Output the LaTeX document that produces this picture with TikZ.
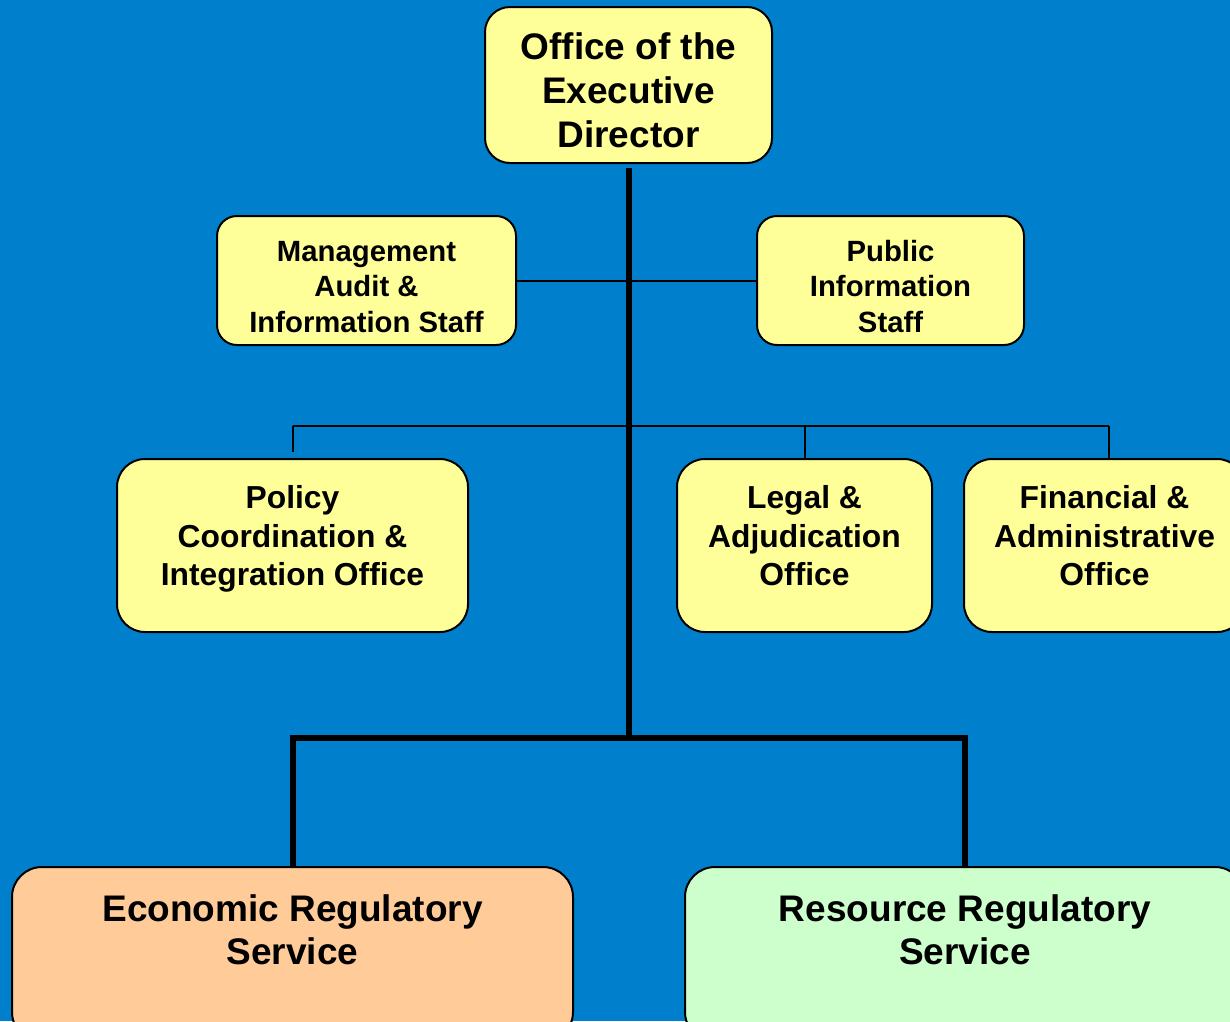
\documentclass[tikz,border=0pt]{standalone}
\usepackage{fontspec}
\setmainfont{Liberation Sans}
\definecolor{bgblue}{RGB}{0,128,204}
\definecolor{boxyellow}{RGB}{255,255,153}
\definecolor{boxorange}{RGB}{255,204,153}
\definecolor{boxgreen}{RGB}{204,255,204}
\tikzset{
  orgbox/.style={draw=black, line width=2pt, inner sep=0pt, align=center, text=black},
  thin/.style={line width=2pt, draw=black},
  thick/.style={line width=6pt, draw=black, line join=miter},
  ftop/.style={font=\fontsize{37}{44}\selectfont\bfseries},
  fmid/.style={font=\fontsize{29.3}{35.5}\selectfont\bfseries},
  frow/.style={font=\fontsize{31.8}{38.5}\selectfont\bfseries},
  fbot/.style={font=\fontsize{37}{42.5}\selectfont\bfseries},
  txt/.style={align=center, text=black, inner sep=0pt}
}
\begin{document}
\begin{tikzpicture}[x=1pt, y=-1pt]
\useasboundingbox[fill=bgblue] (0,0) rectangle (1230,1021);
% boxes
\node[orgbox, fill=boxyellow, rounded corners=25pt, minimum width=287pt, minimum height=156pt] (top) at (628.5,85) {};
\node[txt, ftop] (topT) at ([yshift=-5pt]top.center) {Office of the\\Executive\\Director};
\node[orgbox, fill=boxyellow, rounded corners=20pt, minimum width=299pt, minimum height=129pt] (mgmt) at (366.5,280.5) {};
\node[txt, fmid] (mgmtT) at ([yshift=-6.5pt]mgmt.center) {Management\\Audit \&\\Information Staff};
\node[orgbox, fill=boxyellow, rounded corners=20pt, minimum width=267pt, minimum height=129pt] (pub) at (890.5,280.5) {};
\node[txt, fmid] (pubT) at ([yshift=-6pt]pub.center) {Public\\Information\\Staff};
\node[orgbox, fill=boxyellow, rounded corners=28pt, minimum width=351pt, minimum height=173pt] (policy) at (292.5,545.5) {};
\node[txt, frow] (policyT) at ([yshift=6.5pt]policy.center) {Policy\\Coordination \&\\Integration Office};
\node[orgbox, fill=boxyellow, rounded corners=28pt, minimum width=255pt, minimum height=173pt] (legal) at (804.5,545.5) {};
\node[txt, frow] (legalT) at ([yshift=9.5pt]legal.center) {Legal \&\\Adjudication\\Office};
\node[orgbox, fill=boxyellow, rounded corners=28pt, minimum width=281pt, minimum height=173pt] (fin) at (1104.5,545.5) {};
\node[txt, frow] (finT) at ([yshift=9.5pt]fin.center) {Financial \&\\Administrative\\Office};
\node[orgbox, fill=boxorange, rounded corners=30pt, minimum width=561pt, minimum height=175pt] (econ) at (292.5,954.5) {};
\node[txt, fbot] (econT) at (292.5,930) {Economic Regulatory\\Service};
\node[orgbox, fill=boxgreen, rounded corners=30pt, minimum width=560pt, minimum height=175pt] (res) at (965,954.5) {};
\node[txt, fbot] (resT) at (965,930) {Resource Regulatory\\Service};
% connector coordinates
\coordinate (hl) at (292.5,426);
\coordinate (hr) at (1109,426);
\coordinate (pl) at (292.5,452);
\coordinate (tv) at (628.5,168);
\coordinate (bl) at (292.5,738);
\coordinate (br) at (965,738);
% connectors
\draw[thin] (mgmt.east) -- (pub.west);
\draw[thin] (hl) -- (hr);
\draw[thin] (hl) -- (pl);
\draw[thin] (legal.north |- hl) -- (legal.north);
\draw[thin] (hr) -- (hr |- fin.north);
\draw[thick] (tv) -- (tv |- bl);
\draw[thick] (econ.north) -- (bl) -- (br) -- (res.north);
\end{tikzpicture}
\end{document}
